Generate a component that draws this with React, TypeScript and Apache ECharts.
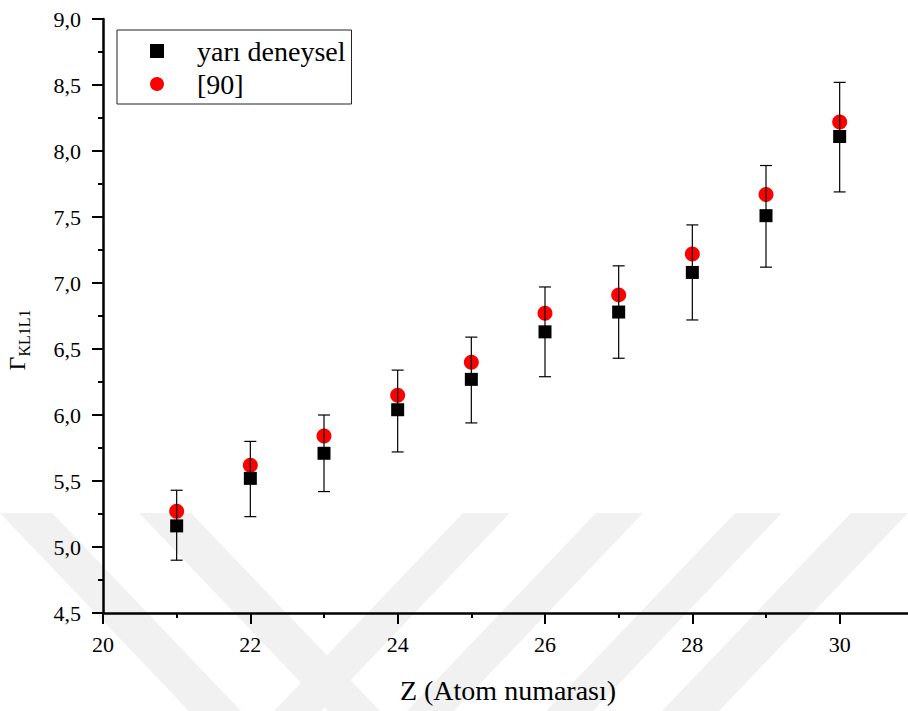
import React, { useEffect, useRef } from "react";
import * as echarts from "echarts";

const FONT = "Liberation Serif, Times New Roman, Times, serif";

// Data
const Z = [21, 22, 23, 24, 25, 26, 27, 28, 29, 30];
const yariDeneysel = [5.16, 5.52, 5.71, 6.04, 6.27, 6.63, 6.78, 7.08, 7.51, 8.11];
const errLow = [4.9, 5.23, 5.42, 5.72, 5.94, 6.29, 6.43, 6.72, 7.12, 7.69];
const errHigh = [5.43, 5.8, 6.0, 6.34, 6.59, 6.97, 7.13, 7.44, 7.89, 8.52];
const ref90 = [5.27, 5.62, 5.84, 6.15, 6.4, 6.77, 6.91, 7.22, 7.67, 8.22];
const seriesNames = ["yarı deneysel", "[90]"];

// Watermark bands (background decoration)
const WM_COLOR = "#f1f1f1";
const WM_BANDS: number[][][] = [
  [[0, 513], [52, 513], [241, 711], [189, 711]],
  [[463, 513], [510, 513], [321, 711], [274, 711]],
  [[139, 513], [191, 513], [380, 711], [328, 711]],
  [[596, 513], [643, 513], [454, 711], [407, 711]],
  [[735, 513], [782, 513], [593, 711], [546, 711]],
  [[851, 513], [908, 513], [719, 711], [662, 711]],
];

export default function App() {
  const ref = useRef<HTMLDivElement>(null);
  useEffect(() => {
    if (!ref.current) return;
    const chart = echarts.init(ref.current, null, { renderer: "svg" });
    const errData = Z.map((z, i) => [z, errLow[i], errHigh[i]]);
    chart.setOption({
      animation: false,
      backgroundColor: "#fff",
      textStyle: { fontFamily: FONT },
      graphic: WM_BANDS.map((pts) => ({
        type: "polygon",
        silent: true,
        z: -10,
        shape: { points: pts },
        style: { fill: WM_COLOR },
      })),
      grid: {
        left: 103,
        top: 19,
        width: 884,
        height: 594,
        containLabel: false,
        outerBoundsMode: "none",
      },
      legend: {
        data: seriesNames,
        orient: "vertical",
        left: 117,
        top: 30,
        padding: [6, 6, 5, 33],
        itemGap: 3,
        itemWidth: 14,
        itemHeight: 14,
        borderColor: "#222",
        borderWidth: 1,
        backgroundColor: "#fff",
        textStyle: {
          fontFamily: FONT,
          fontSize: 28,
          color: "#000",
          lineHeight: 30,
          padding: [0, 0, 0, 28],
        },
      },
      xAxis: {
        type: "value",
        min: 20,
        max: 32,
        interval: 2,
        name: "Z (Atom numarası)",
        nameLocation: "middle",
        nameGap: 63,
        nameTextStyle: {
          fontFamily: FONT,
          fontSize: 28,
          color: "#000",
          padding: [0, 74, 0, 0],
        },
        axisLine: { lineStyle: { color: "#000", width: 2.5 } },
        axisTick: { length: 11, lineStyle: { color: "#000", width: 2 } },
        minorTick: { show: true, splitNumber: 2, length: 5, lineStyle: { color: "#000", width: 2 } },
        splitLine: { show: false },
        axisLabel: {
          fontFamily: FONT,
          fontSize: 22,
          color: "#000",
          margin: 20,
          showMaxLabel: false,
          formatter: (v: number) => (v > 30 ? "" : String(v)),
        },
      },
      yAxis: {
        type: "value",
        min: 4.5,
        max: 9,
        interval: 0.5,
        name: "{g|Γ}{s|KL1L1}",
        nameLocation: "middle",
        nameRotate: 90,
        nameGap: 71,
        nameTextStyle: {
          padding: [0, 48, 0, 0],
          rich: {
            g: { fontFamily: FONT, fontSize: 24, color: "#000", lineHeight: 30 },
            s: { fontFamily: FONT, fontSize: 16, color: "#000", lineHeight: 16, verticalAlign: "bottom" },
          },
        },
        axisLine: { show: true, lineStyle: { color: "#000", width: 2.5 } },
        axisTick: { show: true, length: 11, lineStyle: { color: "#000", width: 2 } },
        minorTick: { show: true, splitNumber: 2, length: 5, lineStyle: { color: "#000", width: 2 } },
        splitLine: { show: false },
        axisLabel: {
          fontFamily: FONT,
          fontSize: 22,
          color: "#000",
          margin: 22,
          formatter: (v: number) => v.toFixed(1).replace(".", ","),
        },
      },
      series: [
        {
          name: "[90]",
          type: "scatter",
          symbol: "circle",
          symbolSize: 15,
          itemStyle: { color: "#ff0000", opacity: 1 },
          z: 2,
          data: Z.map((z, i) => [z, ref90[i]]),
        },
        {
          name: "hata",
          type: "custom",
          z: 3,
          encode: { x: 0, y: [1, 2] },
          data: errData,
          renderItem: (params: any, api: any) => {
            const x = api.value(0);
            const lo = api.coord([x, api.value(1)]);
            const hi = api.coord([x, api.value(2)]);
            const cap = 6;
            const st = { stroke: "#000", lineWidth: 1.2 };
            return {
              type: "group",
              children: [
                { type: "line", shape: { x1: lo[0], y1: lo[1], x2: hi[0], y2: hi[1] }, style: st },
                { type: "line", shape: { x1: lo[0] - cap, y1: lo[1], x2: lo[0] + cap, y2: lo[1] }, style: st },
                { type: "line", shape: { x1: hi[0] - cap, y1: hi[1], x2: hi[0] + cap, y2: hi[1] }, style: st },
              ],
            };
          },
        },
        {
          name: "yarı deneysel",
          type: "scatter",
          symbol: "rect",
          symbolSize: 13,
          itemStyle: { color: "#000", opacity: 1 },
          z: 4,
          data: Z.map((z, i) => [z, yariDeneysel[i]]),
        },
      ],
    });
    return () => chart.dispose();
  }, []);
  return (
    <div
      ref={ref}
      style={{ position: "absolute", left: 0, top: 0, width: 908, height: 711, background: "#fff" }}
    />
  );
}
